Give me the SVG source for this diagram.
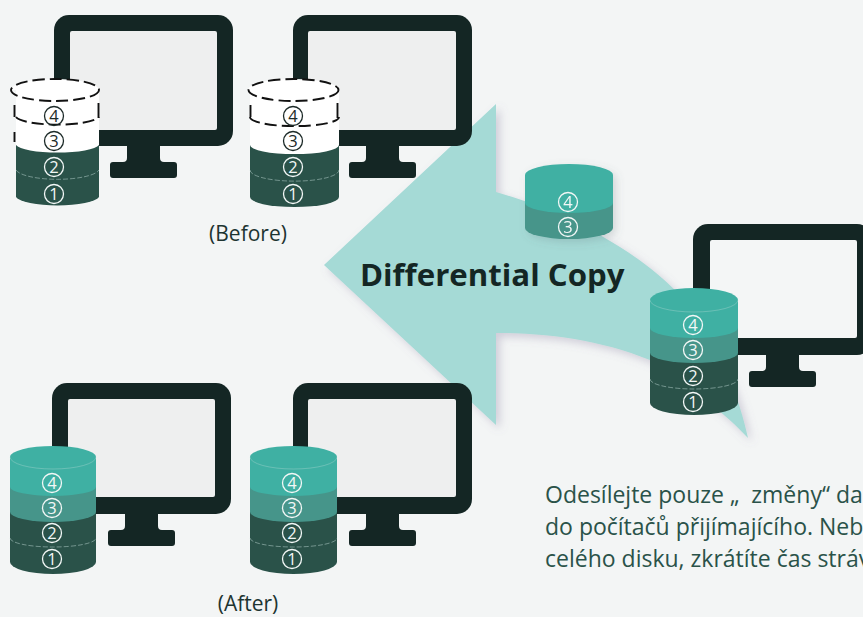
<svg xmlns="http://www.w3.org/2000/svg" xmlns:xlink="http://www.w3.org/1999/xlink" width="863" height="617" viewBox="0 0 863 617">
<style>
.mon{fill:#142624}
.scr{fill:#eeefef}
.t4{fill:#3fb0a3}
.t3{fill:#46958a}
.dk{fill:#2a5249}
.wh{fill:#ffffff}
.sep{fill:none;stroke:#c6e0dc;stroke-width:.8;stroke-dasharray:5 2;opacity:.6}
.dash{fill:none;stroke:#111;stroke-width:1.900;stroke-dasharray:12 5}
.c{fill:none;stroke:#f2f7f6;stroke-width:1.300}
.cd{fill:none;stroke:#1c2a28;stroke-width:1.300}
.n{font-family:"Open Sans","Noto Sans",sans-serif;font-size:16.500px;text-anchor:middle;fill:#f2f7f6}
.nd{fill:#1c2a28}
.lb{font-family:"Open Sans","Noto Sans",sans-serif;font-size:21px;fill:#1d3431;text-anchor:middle}
.para{font-family:"Open Sans","Noto Sans",sans-serif;font-size:23px;fill:#2a5249}
.title{font-family:"Open Sans","Noto Sans",sans-serif;font-size:31.200px;font-weight:700;fill:#142624}
</style>
<defs>
<filter id="sh" x="-20%" y="-20%" width="140%" height="140%"><feDropShadow dx="4" dy="4" stdDeviation="4" flood-color="#7d7296" flood-opacity=".3"/></filter>
<filter id="sh2" x="-20%" y="-20%" width="140%" height="140%"><feDropShadow dx="3" dy="3" stdDeviation="4" flood-color="#5a6a70" flood-opacity=".22"/></filter>
<g id="monitor">
<rect width="179" height="131" rx="15"/>
<path d="M73 131H106V143Q106 147 110 147H120Q123 147 123 150V160Q123 163 120 163H59Q56 163 56 160V150Q56 147 59 147H69Q73 147 73 143Z"/>
</g>
</defs>
<rect width="863" height="617" fill="#f3f5f5"/>

<g id="connectors">
<path id="arrow" d="M324 265L496 104V192C570 213 660 260 700 320C722 355 740 400 748 438C725 413 700 395 650 360C600 340 550 333 496 333V425Z" fill="#a5dad6" filter="url(#sh)"/>
</g>

<g id="pc-before-1">
<use xlink:href="#monitor" href="#monitor" class="mon" x="54" y="15"/>
<rect class="scr" x="70" y="31" width="147" height="99" rx="2"/>
<path class="dk" d="M16 100V197A42 10 0 0 0 99 197V100Z"/>
<path class="sep" d="M16 170A42 11 0 0 0 99 170"/>
<path class="wh" d="M16 90V145A42 9 0 0 0 99 145V90A44 11 0 0 0 11 90Z"/>
<ellipse class="dash" cx="55" cy="90" rx="44" ry="11"/>
<path class="dash" d="M16 117A42 9 0 0 0 99 117"/>
<path class="dash" d="M14.500 105V117M14.500 132V142M98.500 103V118" style="stroke-dasharray:none"/>
<circle class="cd" cx="54" cy="116" r="9.500"/><text class="n nd" x="54" y="122">4</text>
<circle class="cd" cx="54" cy="141" r="9.500"/><text class="n nd" x="54" y="147">3</text>
<circle class="c" cx="54" cy="167" r="9.500"/><text class="n" x="54" y="173">2</text>
<circle class="c" cx="54" cy="194" r="9.500"/><text class="n" x="54" y="200">1</text>
</g>

<g id="pc-before-2">
<use xlink:href="#monitor" href="#monitor" class="mon" x="293" y="15"/>
<rect class="scr" x="308" y="31" width="148" height="99" rx="2"/>
<path class="dk" d="M250 100V197A44 10 0 0 0 339 197V100Z"/>
<path class="sep" d="M250 170A44 11 0 0 0 339 170"/>
<path class="wh" d="M250 90V145A44 9 0 0 0 339 145V90A45 11 0 0 0 248 90Z"/>
<ellipse class="dash" cx="293.500" cy="90" rx="45" ry="11"/>
<path class="dash" d="M250 117A44 9 0 0 0 339 117"/>
<path class="dash" d="M250.500 105V117M337.500 103V118" style="stroke-dasharray:none"/>
<circle class="cd" cx="293" cy="116" r="9.500"/><text class="n nd" x="293" y="122">4</text>
<circle class="cd" cx="293" cy="141" r="9.500"/><text class="n nd" x="293" y="147">3</text>
<circle class="c" cx="293" cy="167" r="9.500"/><text class="n" x="293" y="173">2</text>
<circle class="c" cx="293" cy="194" r="9.500"/><text class="n" x="293" y="200">1</text>
</g>

<g id="label-before"><text class="lb" x="248" y="241">(Before)</text></g>

<g id="db-transfer" filter="url(#sh2)">
<path class="t3" d="M525 175V228A44 11 0 0 0 613 228V175Z"/>
<path class="t4" d="M525 175V203A44 10 0 0 0 613 203V175A44 11 0 0 0 525 175Z"/>
<circle class="c" cx="568" cy="202" r="9.500"/><text class="n" x="568" y="208">4</text>
<circle class="c" cx="568" cy="227" r="9.500"/><text class="n" x="568" y="233">3</text>
</g>

<g id="title"><text class="title" x="360" y="286">Differential Copy</text></g>

<g id="pc-source">
<use xlink:href="#monitor" href="#monitor" class="mon" x="693" y="224"/>
<rect x="710" y="240" width="147" height="98" rx="2" fill="#f4f6f6"/>
<path class="dk" d="M650 300V403A44 12 0 0 0 738 403V300Z"/>
<path class="sep" d="M650 379A44 10 0 0 0 738 379"/>
<path class="t3" d="M650 300V353A44 10 0 0 0 738 353V300Z"/>
<path class="t4" d="M650 300V328A44 10 0 0 0 738 328V300A44 12 0 0 0 650 300Z"/>
<path class="sep" d="M650 300A44 12 0 0 0 738 300" style="opacity:.4;stroke-dasharray:none"/>
<circle class="c" cx="693" cy="325" r="9.500"/><text class="n" x="693" y="331">4</text>
<circle class="c" cx="693" cy="350" r="9.500"/><text class="n" x="693" y="356">3</text>
<circle class="c" cx="693" cy="376" r="9.500"/><text class="n" x="693" y="382">2</text>
<circle class="c" cx="693" cy="402" r="9.500"/><text class="n" x="693" y="408">1</text>
</g>

<g id="pc-after-1">
<use xlink:href="#monitor" href="#monitor" class="mon" x="52" y="383"/>
<rect class="scr" x="68" y="399" width="147" height="98" rx="2"/>
<path class="dk" d="M10 457V562A43 12 0 0 0 96 562V457Z"/>
<path class="sep" d="M10 538A43 9 0 0 0 96 538"/>
<path class="t3" d="M10 457V512A43 10 0 0 0 96 512V457Z"/>
<path class="t4" d="M10 457V487A43 9 0 0 0 96 487V457A43 11 0 0 0 10 457Z"/>
<path class="sep" d="M10 457A43 12 0 0 0 96 457" style="opacity:.4;stroke-dasharray:none"/>
<circle class="c" cx="52" cy="483" r="9.500"/><text class="n" x="52" y="489">4</text>
<circle class="c" cx="52" cy="508" r="9.500"/><text class="n" x="52" y="514">3</text>
<circle class="c" cx="52" cy="533" r="9.500"/><text class="n" x="52" y="539">2</text>
<circle class="c" cx="52" cy="559" r="9.500"/><text class="n" x="52" y="565">1</text>
</g>

<g id="pc-after-2">
<use xlink:href="#monitor" href="#monitor" class="mon" x="293" y="383"/>
<rect class="scr" x="308" y="399" width="148" height="98" rx="2"/>
<path class="dk" d="M250 457V562A43.500 12 0 0 0 337 562V457Z"/>
<path class="sep" d="M250 538A43.500 9 0 0 0 337 538"/>
<path class="t3" d="M250 457V512A43.500 10 0 0 0 337 512V457Z"/>
<path class="t4" d="M250 457V487A43.500 9 0 0 0 337 487V457A43.500 11 0 0 0 250 457Z"/>
<path class="sep" d="M250 457A43.500 12 0 0 0 337 457" style="opacity:.4;stroke-dasharray:none"/>
<circle class="c" cx="292" cy="483" r="9.500"/><text class="n" x="292" y="489">4</text>
<circle class="c" cx="292" cy="508" r="9.500"/><text class="n" x="292" y="514">3</text>
<circle class="c" cx="292" cy="533" r="9.500"/><text class="n" x="292" y="539">2</text>
<circle class="c" cx="292" cy="559" r="9.500"/><text class="n" x="292" y="565">1</text>
</g>

<g id="label-after"><text class="lb" x="248" y="611">(After)</text></g>

<g id="description">
<text class="para" x="545" y="503" xml:space="preserve">Odesílejte pouze „  změny“ da</text>
<text class="para" x="545" y="535">do počítačů přijímajícího. Neb</text>
<text class="para" x="545" y="567">celého disku, zkrátíte čas stráv</text>
</g>
</svg>
